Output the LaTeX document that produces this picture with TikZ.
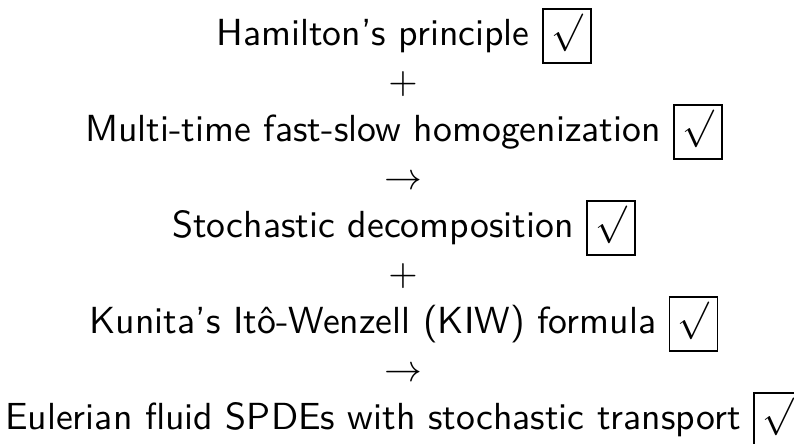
\documentclass[tikz,border=0pt]{standalone}
\newcommand\chkbox{{\fboxsep=2pt\fboxrule=0.4pt\fbox{\rule[-2.6pt]{0pt}{10pt}\smash{\raisebox{0.7pt}{$\surd$}}}}}
\begin{document}
\begin{tikzpicture}[x=0.265pt,y=-0.265pt,
  line/.style={anchor=base,inner sep=0pt,font=\sffamily},
  op/.style={anchor=base,inner sep=0pt}]
\useasboundingbox (0,0) rectangle (794,443);
\node[line] (l1) at (404,45) {Hamilton's principle \chkbox};
\node[op] (p1) at (403,93) {$+$};
\node[line] (l2) at (404,141) {Multi-time fast-slow homogenization \chkbox};
\node[op] (a1) at (403,189) {$\rightarrow$};
\node[line] (l3) at (404,237) {Stochastic decomposition \chkbox};
\node[op] (p2) at (403,285) {$+$};
\node[line] (l4) at (404,333) {Kunita's Itô-Wenzell (KIW) formula \chkbox};
\node[op] (a2) at (403,381) {$\rightarrow$};
\node[line] (l5) at (404,429) {Eulerian fluid SPDEs with stochastic transport \chkbox};
\end{tikzpicture}
\end{document}
